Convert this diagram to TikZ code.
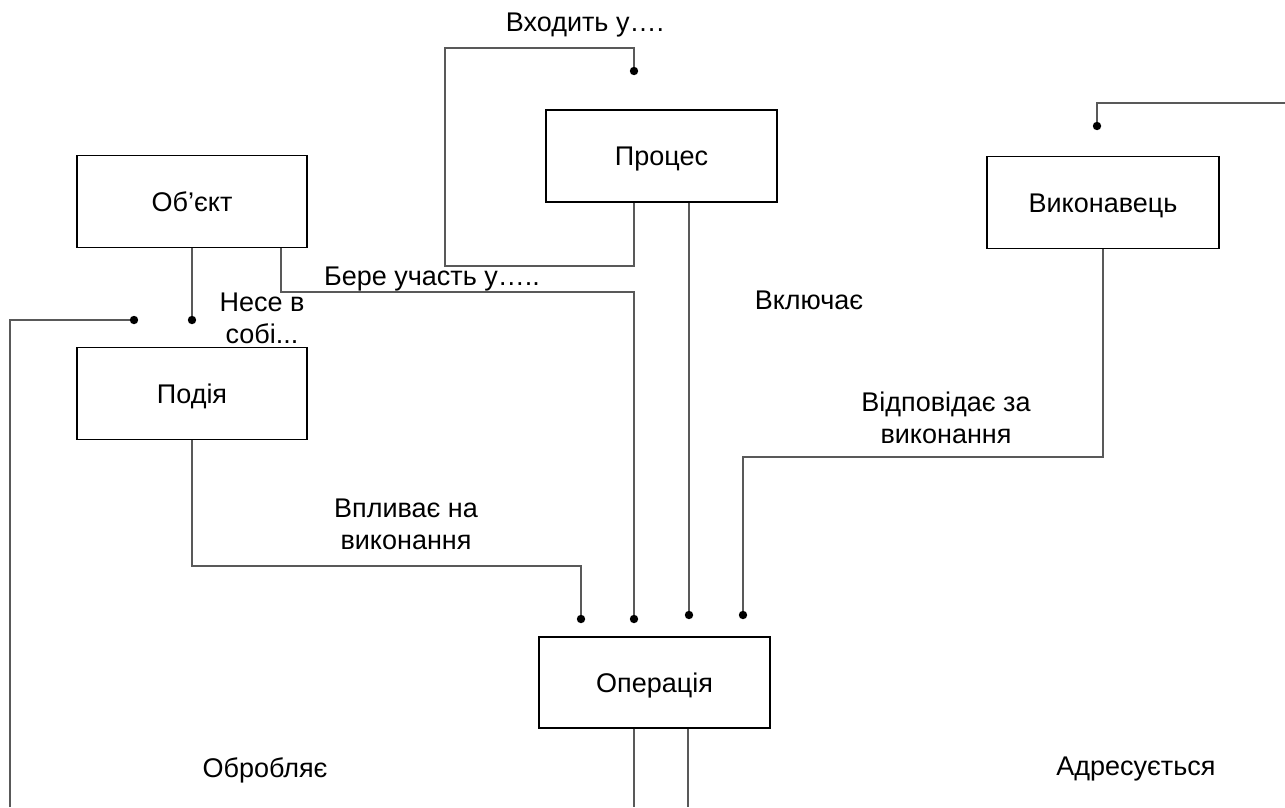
\documentclass[tikz,border=0pt]{standalone}
\usepackage{fontspec}
\setmainfont{Liberation Sans}
\begin{document}
\begin{tikzpicture}[x=1pt,y=-1pt,
  box/.style={draw=black,line width=1.2pt,minimum width=230pt,minimum height=92pt,inner sep=0pt,
    text height=19.5pt,text depth=0pt,font=\fontsize{27}{32}\selectfont},
  conn/.style={draw=black!65,line width=1.1pt},
  lbl/.style={align=center,inner sep=0pt,font=\fontsize{27}{32}\selectfont},
  dot/.style={fill=black}]
\useasboundingbox (0,0) rectangle (1285,807);

% entities
\node[box] (obj)  at (192,201.5)   {Об’єкт};
\node[box,minimum width=231pt] (proc) at (661.5,156) {Процес};
\node[box,minimum width=232pt] (vyk)  at (1103,202.5) {Виконавець};
\node[box] (pod)  at (192,393.5)   {Подія};
\node[box,minimum width=231pt,minimum height=91pt] (op) at (654.5,682.5) {Операція};

% connector end points
\coordinate (d1) at (634,71);
\coordinate (d2) at (192,320);
\coordinate (d3) at (134,320);
\coordinate (d4) at (581,619);
\coordinate (d5) at (634,619);
\coordinate (d6) at (689,615);
\coordinate (d7) at (743,615);
\coordinate (d8) at (1097,126);
\coordinate (eL) at (10,807);
\coordinate (eR) at (1285,103);
\coordinate (eB1) at (634,807);
\coordinate (eB2) at (688,807);

% connectors
\draw[conn] (proc.south -| d1) |- (445,266) |- (634,48) -- (d1);
\draw[conn] (obj.south -| d2) -- (d2);
\draw[conn] (obj.south -| 281,0) |- (634,292) -- (d5);
\draw[conn] (eL) |- (d3);
\draw[conn] (proc.south -| d6) -- (d6);
\draw[conn] (pod.south) |- (581,566) -- (d4);
\draw[conn] (vyk.south) |- (743,457) -- (d7);
\draw[conn] (eR) -| (d8);
\draw[conn] (op.south -| eB1) -- (eB1);
\draw[conn] (op.south -| eB2) -- (eB2);

\foreach \d in {d1,d2,d3,d4,d5,d6,d7,d8} \fill[dot] (\d) circle (4.2);

% relation labels
\node[lbl] (l1) at (585,25)   {Входить у….};
\node[lbl] (l2) at (432,279)  {Бере участь у…..};
\node[lbl] (l3) at (262,318)  {Несе в\\собі...};
\node[lbl] (l4) at (809,300)  {Включає};
\node[lbl] (l5) at (946,418)  {Відповідає за\\виконання};
\node[lbl] (l6) at (406,524)  {Впливає на\\виконання};
\node[lbl] (l7) at (265,770)  {Обробляє};
\node[lbl] (l8) at (1136,769) {Адресується};
\end{tikzpicture}
\end{document}
